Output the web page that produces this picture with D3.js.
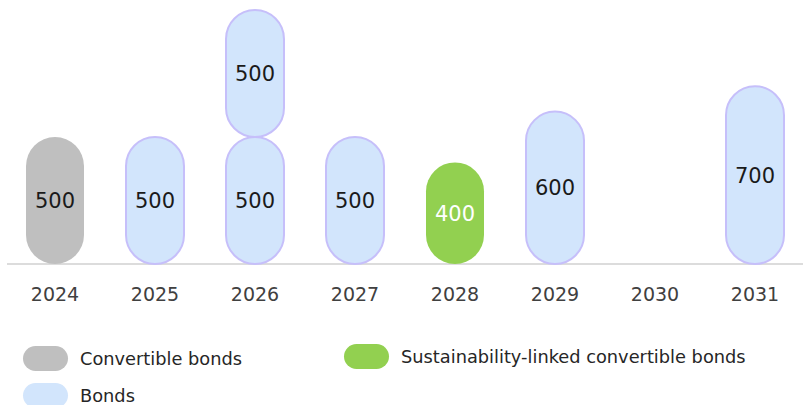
<!DOCTYPE html>
<html>
<head>
<meta charset="utf-8">
<script src="https://cdn.jsdelivr.net/npm/d3@7"></script>
<style>
  body { margin: 0; background: #fff; }
  text { font-family: "DejaVu Sans", sans-serif; }
</style>
</head>
<body>
<div id="chart"></div>
<script>
// maturity years
var years = ["2024", "2025", "2026", "2027", "2028", "2029", "2030", "2031"];
// amounts per series (2026 has two bond tranches stacked)
var convertible = [500, 0, 0, 0, 0, 0, 0, 0];
var sustainability = [0, 0, 0, 0, 400, 0, 0, 0];
var bonds = [0, 500, 500, 500, 0, 600, 0, 700];
var bondsSecond = [0, 0, 500, 0, 0, 0, 0, 0];

var legendItems = [
    { key: "convertible", label: "Convertible bonds" },
    { key: "sustainability", label: "Sustainability-linked convertible bonds" },
    { key: "bonds", label: "Bonds" }
];

var colors = {
    convertible: { fill: "#bfbfbf", stroke: "none", text: "#1a1a1a" },
    sustainability: { fill: "#92d050", stroke: "none", text: "#ffffff" },
    bonds: { fill: "#d2e5fc", stroke: "#c6bffa", text: "#1a1a1a" },
    bondsSecond: { fill: "#d2e5fc", stroke: "#c6bffa", text: "#1a1a1a" }
};

var width = 803, height = 405;
var baseline = 264;

var svg = d3.select("#chart").append("svg")
    .attr("width", width)
    .attr("height", height);

var rows = years.map(function (y, i) {
    return {
        year: y,
        convertible: convertible[i],
        sustainability: sustainability[i],
        bonds: bonds[i],
        bondsSecond: bondsSecond[i]
    };
});

var keys = ["convertible", "sustainability", "bonds", "bondsSecond"];
var stacked = d3.stack().keys(keys)(rows);

var x = d3.scaleBand().domain(years).range([5, 805]).padding(0);
var y = d3.scaleLinear().domain([0, 1000]).range([baseline, 10]);

var barW = 58;

// axis line
svg.append("line")
    .attr("x1", 7).attr("x2", width)
    .attr("y1", baseline).attr("y2", baseline)
    .attr("stroke", "#d0d0d0")
    .attr("stroke-width", 1.5);

// bars as pills
stacked.forEach(function (layer) {
    var key = layer.key;
    var segs = layer.filter(function (d) { return d[1] - d[0] > 0; });
    var g = svg.append("g").attr("class", "layer-" + key);

    g.selectAll("rect")
        .data(segs)
        .join("rect")
        .attr("x", function (d) { return x(d.data.year) + x.bandwidth() / 2 - barW / 2; })
        .attr("y", function (d) { return y(d[1]); })
        .attr("width", barW)
        .attr("height", function (d) { return y(d[0]) - y(d[1]); })
        .attr("rx", barW / 2)
        .attr("ry", barW / 2)
        .attr("fill", colors[key].fill)
        .attr("stroke", colors[key].stroke)
        .attr("stroke-width", 2);

    g.selectAll("text")
        .data(segs)
        .join("text")
        .attr("x", function (d) { return x(d.data.year) + x.bandwidth() / 2; })
        .attr("y", function (d) { return (y(d[0]) + y(d[1])) / 2; })
        .attr("dy", "0.36em")
        .attr("text-anchor", "middle")
        .attr("font-size", 21)
        .attr("fill", colors[key].text)
        .text(function (d) { return d[1] - d[0]; });
});

// x axis labels
var xAxis = d3.axisBottom(x).tickSize(0).tickPadding(0);
var axisG = svg.append("g")
    .attr("transform", "translate(0," + 287 + ")")
    .call(xAxis);
axisG.select(".domain").remove();
axisG.selectAll("text")
    .attr("font-size", 19)
    .attr("fill", "#404040")
    .attr("dy", "0.71em")
    .style("font-family", "DejaVu Sans, sans-serif");

// legend
var legendPos = [
    { x: 23, y: 346 },
    { x: 344, y: 344 },
    { x: 23, y: 383 }
];
var legend = svg.append("g");
legendItems.forEach(function (item, i) {
    var p = legendPos[i];
    legend.append("rect")
        .attr("x", p.x).attr("y", p.y)
        .attr("width", 45).attr("height", 25)
        .attr("rx", 12.5).attr("ry", 12.5)
        .attr("fill", colors[item.key].fill);
    legend.append("text")
        .attr("x", p.x + 57)
        .attr("y", p.y + 12.5)
        .attr("dy", "0.36em")
        .attr("font-size", 17.8)
        .attr("fill", "#262626")
        .text(item.label);
});
</script>
</body>
</html>
